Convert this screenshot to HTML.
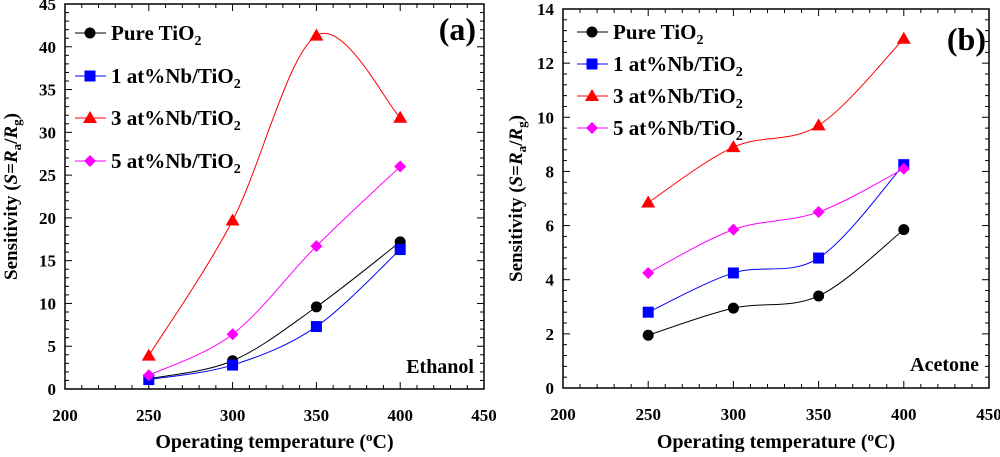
<!DOCTYPE html>
<html><head><meta charset="utf-8"><style>
body{margin:0;background:#fff}
text{font-family:"Liberation Serif",serif;font-weight:bold}
</style></head><body>
<svg id="c" width="1000" height="452" xmlns="http://www.w3.org/2000/svg"></svg>
<script>
const xCats=[250,300,350,400];
const xTicks=[200,250,300,350,400,450];
const aPure=[1.2,3.3,9.6,17.2];
const aNb1=[1.1,2.8,7.3,16.3];
const aNb3=[3.9,19.7,41.3,31.7];
const aNb5=[1.6,6.4,16.7,26.0];
const aYTicks=[0,5,10,15,20,25,30,35,40,45];
const bPure=[1.95,2.95,3.4,5.85];
const bNb1=[2.8,4.25,4.8,8.25];
const bNb3=[6.85,8.9,9.7,12.9];
const bNb5=[4.25,5.85,6.5,8.1];
const bYTicks=[0,2,4,6,8,10,12,14];
const svg=document.getElementById('c');
const NS='http://www.w3.org/2000/svg';
function mk(t,at,p){const e=document.createElementNS(NS,t);for(const k in at)e.setAttribute(k,at[k]);(p||svg).appendChild(e);return e;}
function marker(g,type,x,y,col){
 if(type==='circle')return mk('circle',{cx:x,cy:y,r:5.5,fill:col},g);
 if(type==='square')return mk('rect',{x:x-5.5,y:y-5.5,width:11,height:11,fill:col},g);
 if(type==='tri')return mk('polygon',{points:`${x},${y-7} ${x-7},${y+5} ${x+7},${y+5}`,fill:col},g);
 return mk('polygon',{points:`${x},${y-6} ${x+6},${y} ${x},${y+6} ${x-6},${y}`,fill:col},g);
}
function smooth(pts){let d=`M${pts[0][0]},${pts[0][1]}`;
 for(let i=0;i<pts.length-1;i++){const p0=pts[Math.max(i-1,0)],p1=pts[i],p2=pts[i+1],p3=pts[Math.min(i+2,pts.length-1)];
 d+=` C${p1[0]+(p2[0]-p0[0])/6},${p1[1]+(p2[1]-p0[1])/6} ${p2[0]-(p3[0]-p1[0])/6},${p2[1]-(p3[1]-p1[1])/6} ${p2[0]},${p2[1]}`;}return d;}
function panel(cfg){
 const g=mk('g',{});
 
 
 const {L,R,T,B,ymax}=cfg;
 const sx=v=>L+(v-200)/250*(R-L), sy=v=>B-v/ymax*(B-T);
 const frame=mk('rect',{x:L,y:T,width:R-L,height:B-T,fill:'none',stroke:'#000','stroke-width':1.5},g);
 
 
 for(let v=200;v<=450;v+=10){const x=sx(v);const len=(v%50===0)?7:4;mk('line',{x1:x,x2:x,y1:B,y2:B-len,stroke:'#000'},g);mk('line',{x1:x,x2:x,y1:T,y2:T+len,stroke:'#000'},g);}
 xTicks.forEach(v=>{const t=mk('text',{x:sx(v),y:B+32,'text-anchor':'middle','font-size':17},g);t.textContent=v;});
 for(let v=0;v<=ymax+1e-9;v+=cfg.minor){const y=sy(v);const maj=cfg.yTicks.some(t=>Math.abs(t-v)<1e-6);const len=maj?7:4;mk('line',{x1:L,x2:L+len,y1:y,y2:y,stroke:'#000'},g);mk('line',{x1:R,x2:R-len,y1:y,y2:y,stroke:'#000'},g);}
 cfg.yTicks.forEach(v=>{const t=mk('text',{x:L-9,y:sy(v)+6,'text-anchor':'end','font-size':17},g);t.textContent=v;});
 const xt=mk('text',{x:(L+R)/2,y:448,'text-anchor':'middle','font-size':20},g);
 xt.innerHTML='Operating temperature (<tspan dy="-7" font-size="13">o</tspan><tspan dy="7">C)</tspan>';
 
 const yt=mk('text',{transform:`translate(${cfg.yTitleX},${(T+B)/2}) rotate(-90)`,'text-anchor':'middle','font-size':19},g);
 yt.innerHTML='Sensitivity (<tspan font-style="italic">S</tspan>=<tspan font-style="italic">R</tspan><tspan dy="4" font-size="13">a</tspan><tspan dy="-4">/</tspan><tspan font-style="italic">R</tspan><tspan dy="4" font-size="13">g</tspan><tspan dy="-4">)</tspan>';
 
 const series=[[cfg.s[0],'#000','circle','Pure TiO'],[cfg.s[1],'#0000ff','square','1 at%Nb/TiO'],[cfg.s[2],'#ff0000','tri','3 at%Nb/TiO'],[cfg.s[3],'#ff00ff','diamond','5 at%Nb/TiO']];
 series.forEach((s,i)=>{const sg=mk('g',{},g);
  const pts=xCats.map((c,j)=>[sx(c),sy(s[0][j])]);
  mk('path',{d:smooth(pts),fill:'none',stroke:s[1],'stroke-width':1},sg);
  pts.forEach(p=>{const m=marker(sg,s[2],p[0],p[1],s[1]);});
  const ly=cfg.legY[i];
  const lg=mk('g',{},g);
  mk('line',{x1:cfg.legX,x2:cfg.legX+31,y1:ly,y2:ly,stroke:s[1]},lg);marker(lg,s[2],cfg.legX+15,ly,s[1]);
  const t=mk('text',{x:cfg.legX+36,y:ly+7,'font-size':21},lg);t.innerHTML=s[3]+'<tspan dy="5" font-size="14">2</tspan>';
 });
 const lab=mk('text',{x:cfg.labX,y:cfg.labY,'text-anchor':'end','font-size':32},g);lab.textContent=cfg.lab;
 const gas=mk('text',{x:R-10,y:cfg.gasY,'text-anchor':'end','font-size':20},g);gas.textContent=cfg.gas;
}
panel({name:'panel-a',L:65,R:484,T:4,B:389,ymax:45,minor:1,yTicks:aYTicks,s:[aPure,aNb1,aNb3,aNb5],legX:75,legY:[33,76,118,161],labX:476,labY:40,gas:'Ethanol',gasY:373,lab:'(a)',yTitleX:17});
panel({name:'panel-b',L:563,R:989,T:9,B:388,ymax:14,minor:0.4,yTicks:bYTicks,s:[bPure,bNb1,bNb3,bNb5],legX:577,legY:[32,64,96,128],labX:986,labY:50,gas:'Acetone',gasY:371,lab:'(b)',yTitleX:522});
</script>
</body></html>
